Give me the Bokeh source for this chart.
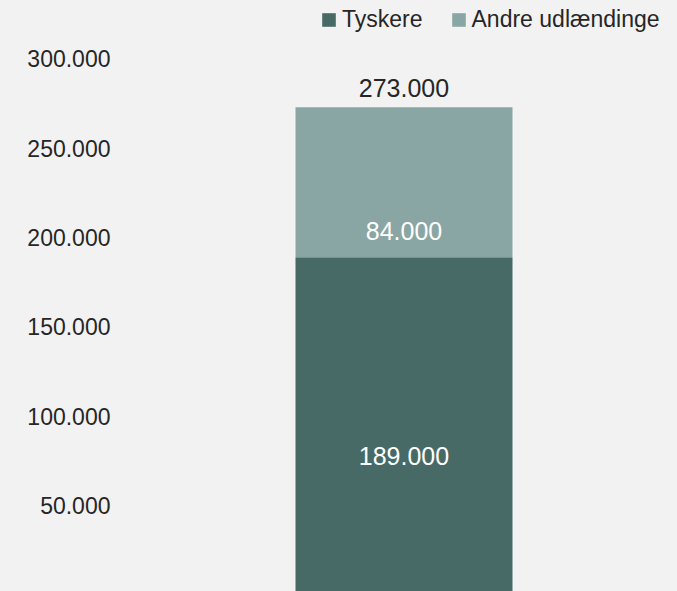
from bokeh.plotting import figure
from bokeh.models import ColumnDataSource, Range1d, FixedTicker, LabelSet
from bokeh.core.properties import value
from bokeh.embed import file_html
from bokeh.resources import INLINE

# ---- data ----
categories = ["I alt"]
series_names = ["Tyskere", "Andre udlændinge"]
tyskere = [189000]
andre = [84000]
y_ticks = [0, 50000, 100000, 150000, 200000, 250000, 300000]
y_tick_labels = ["0", "50.000", "100.000", "150.000", "200.000", "250.000", "300.000"]

def dk(v):
    return f"{v:,}".replace(",", ".")

BG = "#F2F2F2"
DARK = "#476A66"
LIGHT = "#8AA6A4"
TXT = "#262626"
FONT = "Liberation Sans"

xpos = list(range(len(categories)))
source = ColumnDataSource(dict(x=xpos, Tyskere=tyskere, Andre=andre))

p = figure(width=677, height=591, output_backend="svg", toolbar_location=None,
           x_range=Range1d(-1.2696, 1.2604), y_range=Range1d(1792, 332755),
           x_axis_location=None, min_border_left=128, min_border_right=0,
           min_border_top=0, min_border_bottom=0,
           background_fill_color=BG, border_fill_color=BG, outline_line_color=None)

p.vbar_stack(["Tyskere", "Andre"], x="x", width=1, color=[DARK, LIGHT],
             line_color=None, source=source, legend_label=series_names)

p.xgrid.visible = False
p.ygrid.visible = False

ax = p.yaxis[0]
ax.ticker = FixedTicker(ticks=y_ticks)
ax.major_label_overrides = {t: l for t, l in zip(y_ticks, y_tick_labels)}
ax.axis_line_color = None
ax.major_tick_line_color = None
ax.minor_tick_line_color = None
ax.major_tick_out = 0
ax.major_tick_in = 0
ax.major_label_standoff = 18
ax.major_label_text_font = FONT
ax.major_label_text_font_size = "23px"
ax.major_label_text_color = TXT

# data labels
tot = [a + b for a, b in zip(tyskere, andre)]
lab_inner = ColumnDataSource(dict(
    x=xpos + xpos,
    y=[t / 2 for t in tyskere] + [t + a / 2 for t, a in zip(tyskere, andre)],
    text=[dk(v) for v in tyskere] + [dk(v) for v in andre],
    yoff=[-30] * len(xpos) + [-48.6] * len(xpos),
))
p.add_layout(LabelSet(x="x", y="y", text="text", y_offset="yoff", source=lab_inner,
                      text_align="center", text_baseline="middle",
                      text_font=value(FONT), text_font_size=value("25px"),
                      text_color="white"))
lab_tot = ColumnDataSource(dict(x=xpos, y=tot, text=[dk(v) for v in tot]))
p.add_layout(LabelSet(x="x", y="y", text="text", y_offset=19, source=lab_tot,
                      text_align="center", text_baseline="middle",
                      text_font=value(FONT), text_font_size=value("25px"),
                      text_color=TXT))

lg = p.legend[0]
lg.orientation = "horizontal"
lg.location = (192, 558)
lg.margin = 0
lg.padding = 0
lg.spacing = 27
lg.glyph_width = 17
lg.glyph_height = 17
lg.label_standoff = 5
lg.label_text_font = FONT
lg.label_text_font_size = "23px"
lg.label_text_color = TXT
lg.background_fill_alpha = 0
lg.border_line_color = None

html = file_html(p, INLINE)
html = html.replace("<head>", "<head><style>body{background:#F2F2F2;}</style>", 1)
open("out.html", "w").write(html)
